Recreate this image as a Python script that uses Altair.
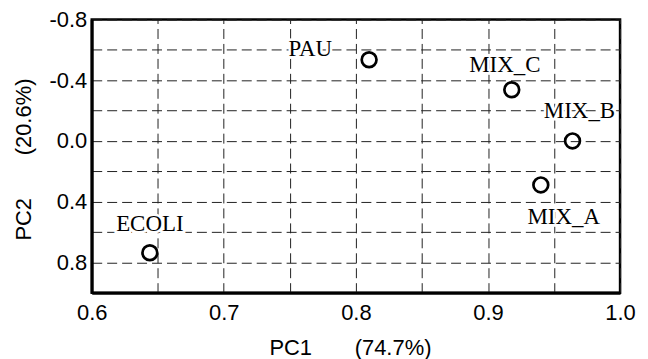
import altair as alt
import pandas as pd

samples = ["PAU", "MIX_C", "MIX_B", "MIX_A", "ECOLI"]
pc1 = [0.810, 0.918, 0.964, 0.940, 0.644]
pc2 = [-0.535, -0.337, 0.0, 0.29, 0.737]
x_ticks = [0.6, 0.65, 0.7, 0.75, 0.8, 0.85, 0.9, 0.95, 1.0]
y_ticks = [-0.8, -0.6, -0.4, -0.2, 0.0, 0.2, 0.4, 0.6, 0.8, 1.0]
label_dx = [-59, -7, 7, 23, 0]
label_dy = [-4, -18, -23, 39, -22]

df = pd.DataFrame({"sample": samples, "pc1": pc1, "pc2": pc2})

NB = "\u00a0"
x_title = "PC1" + NB * 7 + "(74.7%)"
y_title = "PC2" + NB * 7 + "(20.6%)"

grid_kw = dict(grid=True, gridDash=[10, 5], gridColor="#222222", gridWidth=1,
               ticks=False, domain=True, domainColor="black", domainWidth=3,
               labelFont="Liberation Sans", labelFontSize=22, labelColor="black",
               titleFont="Liberation Sans", titleFontSize=22, titleFontWeight="normal",
               titleColor="black")

x_enc = alt.X("pc1:Q",
              scale=alt.Scale(domain=[0.6, 1.0], nice=False, zero=False),
              axis=alt.Axis(values=x_ticks,
                            labelExpr="(round(datum.value*100) % 10 == 0) ? format(datum.value, '.1f') : ''",
                            labelPadding=10, labelFlush=False, labelOverlap=False,
                            title=x_title, titleX=259, titleY=62, titleBaseline="alphabetic",
                            titleAnchor="middle", titleAlign="center",
                            **grid_kw))
y_enc = alt.Y("pc2:Q",
              scale=alt.Scale(domain=[-0.8, 1.0], nice=False, zero=False, reverse=True),
              axis=alt.Axis(values=y_ticks,
                            labelExpr="(round(datum.value*10) % 4 == 0) ? replace(format(datum.value, '.1f'), '\u2212', '-') : ''",
                            labelPadding=5, labelFlush=False, labelOverlap=False,
                            title=y_title, titleAngle=-90, titleX=-61, titleY=140,
                            titleBaseline="alphabetic", titleAlign="center",
                            **grid_kw))

base = alt.Chart(df).encode(x=x_enc, y=y_enc)

points = base.mark_point(shape="circle", filled=False, size=220, strokeWidth=2.7,
                         color="black", opacity=1)

layers = [points]
for s, dx, dy in zip(samples, label_dx, label_dy):
    sub = base.transform_filter(alt.datum.sample == s)
    halo = sub.mark_text(dx=dx, dy=dy, font="Liberation Serif", fontSize=23,
                         align="center", baseline="alphabetic", stroke="white",
                         strokeWidth=5, color="white").encode(text="sample:N")
    txt = sub.mark_text(dx=dx, dy=dy, font="Liberation Serif", fontSize=23,
                        align="center", baseline="alphabetic",
                        color="black").encode(text="sample:N")
    layers += [halo, txt]

chart = alt.layer(*layers).properties(
    width=530, height=274,
    autosize=alt.AutoSizeParams(type="none"),
    padding={"left": 84, "top": 11, "right": 20, "bottom": 66},
    background="white",
).configure_view(stroke="black", strokeWidth=2.5)

chart.save("out.html", embed_options={"renderer": "svg", "actions": False})
